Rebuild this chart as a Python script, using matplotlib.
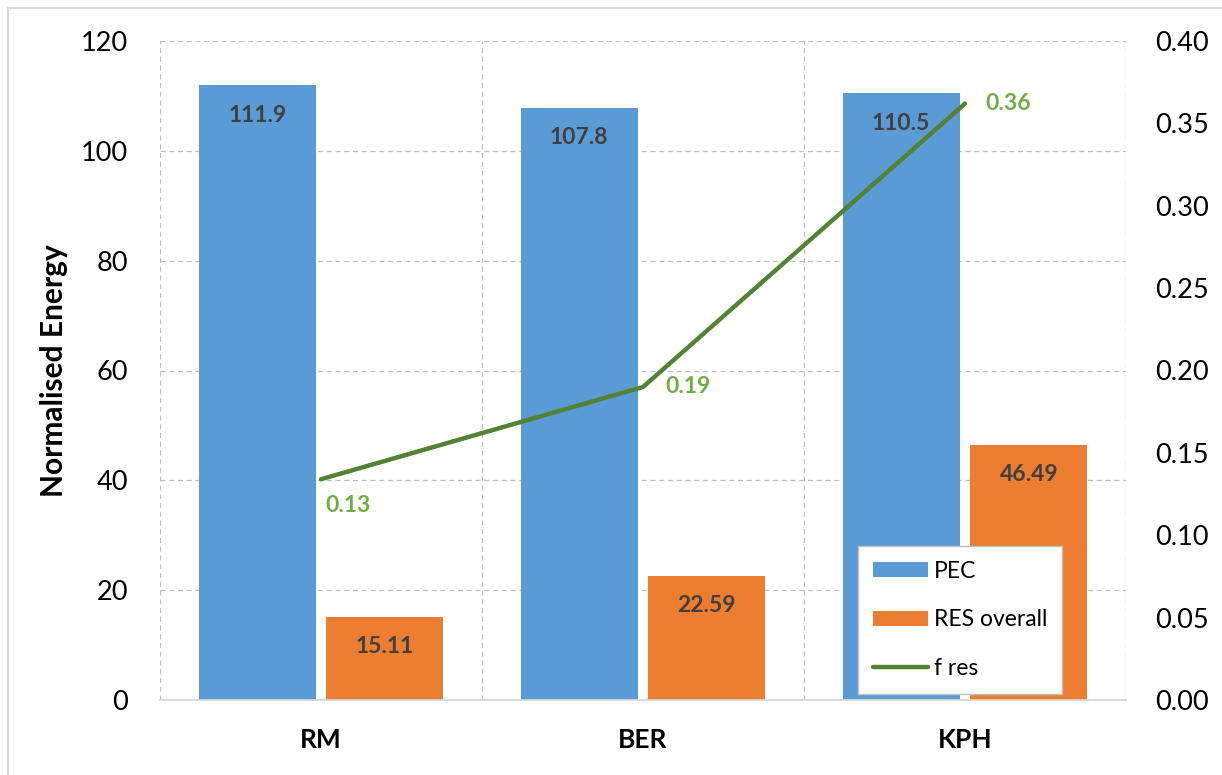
import matplotlib.pyplot as plt
import numpy as np
from matplotlib.lines import Line2D

plt.rcParams['font.family'] = ['Lato', 'DejaVu Sans']

categories = ['RM', 'BER', 'KPH']
pec = [111.9, 107.8, 110.5]
res_overall = [15.11, 22.59, 46.49]
f_res = [0.134, 0.19, 0.362]
left_ticks = [0, 20, 40, 60, 80, 100, 120]
right_ticks = [0.0, 0.05, 0.10, 0.15, 0.20, 0.25, 0.30, 0.35, 0.40]

blue = '#5b9bd5'
orange = '#ed7d31'
green_line = '#548235'
green_text = '#70ad47'
grid_col = '#bfbfbf'

fig = plt.figure(figsize=(12.22, 7.75), dpi=100)
ax = fig.add_axes([160 / 1222, 75 / 775, 966 / 1222, 659 / 775])
ax2 = ax.twinx()

x = np.arange(len(categories))
w = 0.363
off = 0.198
b1 = ax.bar(x - off, pec, w, color=blue, label='PEC', zorder=3)
b2 = ax.bar(x + off, res_overall, w, color=orange, label='RES overall', zorder=3)

for bars, vals in [(b1, pec), (b2, res_overall)]:
    for rect, v in zip(bars, vals):
        txt = f'{v:.1f}' if bars is b1 else f'{v:.2f}'
        ax.annotate(txt, (rect.get_x() + rect.get_width() / 2, v), xytext=(0, -21.5),
                    textcoords='offset points', ha='center', va='center',
                    fontsize=16.5, fontweight='bold', color='#404040', zorder=4)

ln, = ax2.plot(x, f_res, color=green_line, lw=3.2, label='f res', zorder=5,
               solid_capstyle='round')
label_offsets = [(3, -19), (16, 0), (15, 0)]
for xi, v, o in zip(x, f_res, label_offsets):
    ax2.annotate(f'{v:.2f}', (xi, v), xytext=o, textcoords='offset points',
                 ha='left', va='center', fontsize=16.5, fontweight='bold', color=green_text)

ax.set_xlim(-0.5, 2.5)
ax.set_ylim(0, 120)
ax2.set_ylim(0, 0.40)
ax.set_yticks(left_ticks)
ax2.set_yticks(right_ticks)
ax2.set_yticklabels([f'{t:.2f}' for t in right_ticks])
ax.set_xticks(x)
ax.set_xticklabels(categories, fontsize=19, fontweight='bold')
ax.tick_params(axis='x', length=0, pad=20)
ax.tick_params(axis='y', length=0, pad=23, labelsize=19.5)
ax2.tick_params(axis='y', length=0, pad=21, labelsize=19.5)

# gridlines: horizontal at left ticks, vertical at category boundaries
for yv in left_ticks[1:]:
    ax.axhline(yv, color=grid_col, ls=(0, (4, 3)), lw=0.9, zorder=1)
for xv in [-0.5, 0.5, 1.5, 2.5]:
    ax.axvline(xv, color=grid_col, ls=(0, (4, 3)), lw=0.9, zorder=1)

for a in (ax, ax2):
    for s in ['top', 'left', 'right']:
        a.spines[s].set_visible(False)
    a.spines['bottom'].set_color('#d9d9d9')
    a.spines['bottom'].set_linewidth(1.2)

ax.set_ylabel('Normalised Energy', fontsize=21.5, fontweight='bold', labelpad=9)

handles = [b1, b2, ln]
leg = ax2.legend(handles, ['PEC', 'RES overall', 'f res'], loc='upper left',
                 bbox_to_anchor=(698 / 966, 154 / 659), fontsize=16.5, frameon=True,
                 fancybox=False, edgecolor='#bfbfbf', framealpha=1,
                 handlelength=2.4, handleheight=0.65, labelspacing=1.2,
                 handletextpad=0.25, borderpad=0.65, borderaxespad=0)
leg.get_frame().set_linewidth(1.0)
leg.set_zorder(10)

# outer chart border (left and top visible)
fig.add_artist(Line2D([8 / 1222, 8 / 1222], [0, 1 - 8 / 775], transform=fig.transFigure,
                      color='#d9d9d9', lw=1.5))
fig.add_artist(Line2D([8 / 1222, 1], [1 - 8 / 775, 1 - 8 / 775], transform=fig.transFigure,
                      color='#d9d9d9', lw=1.5))

fig.savefig('out.png', dpi=100)
